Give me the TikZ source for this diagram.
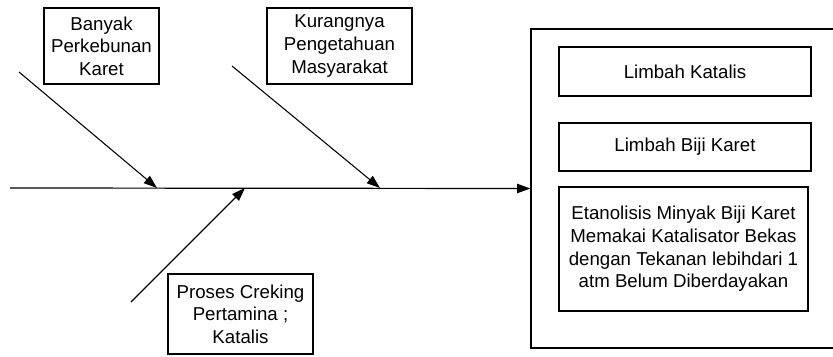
\documentclass[tikz,border=0pt]{standalone}
\usepackage{fontspec}
\setmainfont{Liberation Sans}
\usetikzlibrary{arrows.meta}
\tikzset{
	kotak/.style={draw, line width=0.9pt, align=center, inner sep=0pt, font=\fontsize{14}{17}\selectfont},
	tulang/.style={line width=0.8pt, -{Triangle[length=10pt,width=7pt]}}
}

\begin{document}
\begin{tikzpicture}[x=0.75pt,y=-0.75pt]
			%%%%% START %%%%%
			\def\px{0.75pt}
			\def\ybox{46}
			\def\yspine{188}
			\def\xin{685}
			
			\clip (0,0) rectangle (833,357);
			
			% kepala (akibat)
			\node[kotak, minimum width=305*\px, minimum height=319*\px] (akibat) at (683.5,188.5) {};
			\node[kotak, minimum width=252*\px, minimum height=49*\px] (limkat) at (\xin,71.5) {Limbah Katalis};
			\node[kotak, minimum width=252*\px, minimum height=48*\px] (limbiji) at (\xin,147) {Limbah Biji Karet};
			\node[kotak, minimum width=249*\px, minimum height=124*\px] (etanol) at (683.5,249) {Etanolisis Minyak Biji Karet\\Memakai Katalisator Bekas\\dengan Tekanan lebihdari 1\\atm Belum Diberdayakan};
			
			% sebab
			\node[kotak, minimum width=115*\px, minimum height=76*\px] (banyak) at (101.5,\ybox) {Banyak\\Perkebunan\\Karet};
			\node[kotak, minimum width=145*\px, minimum height=76*\px] (kurang) at (339.5,\ybox) {Kurangnya\\Pengetahuan\\Masyarakat};
			\node[kotak, minimum width=145*\px, minimum height=80*\px] (proses) at (240.5,314) {Proses Creking\\Pertamina ;\\Katalis};
			
			% tulang ikan
			\coordinate (ekor) at (10,\yspine);
			\coordinate (s1) at (19,72);
			\coordinate (t1) at (157,\yspine);
			\coordinate (s2) at (232,66);
			\coordinate (t2) at (380,\yspine);
			\coordinate (s3) at (131,302);
			\coordinate (t3) at (245,\yspine);
			
			\draw[tulang, line width=0.9pt] (ekor) -- (akibat.west);
			\draw[tulang] (s1) -- (t1);
			\draw[tulang] (s2) -- (t2);
			\draw[tulang] (s3) -- (t3);
			%%%%% END %%%%%
\end{tikzpicture}
\end{document}
